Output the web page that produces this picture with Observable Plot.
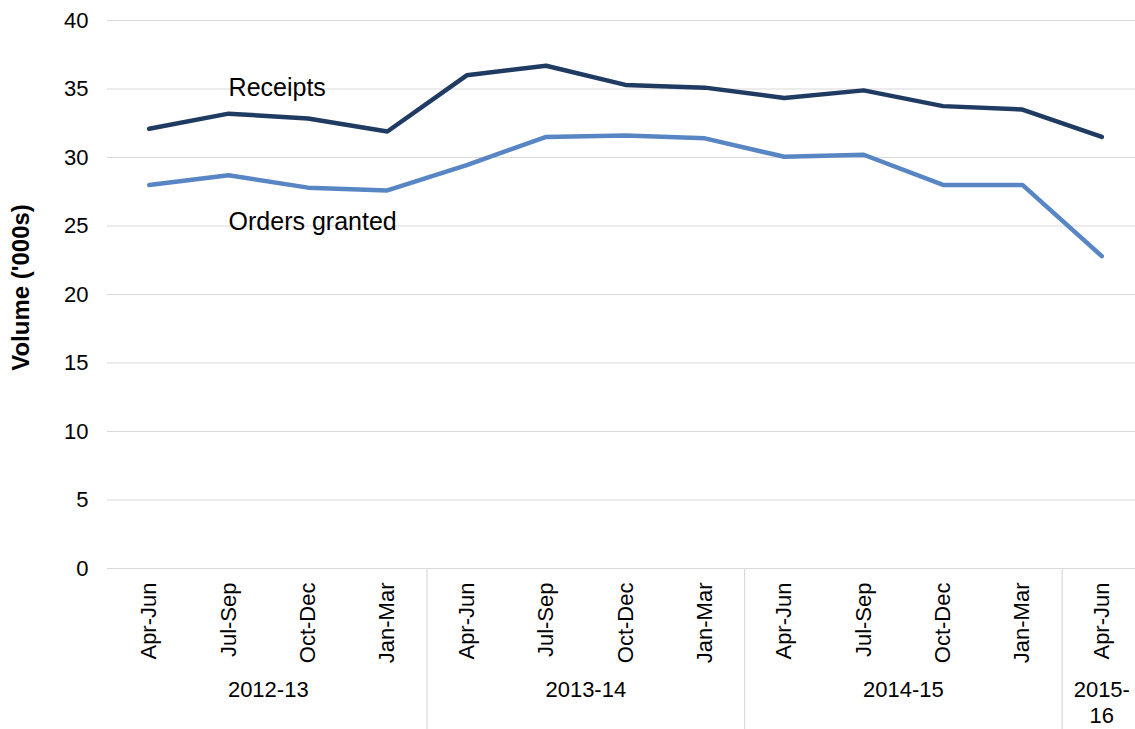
<!DOCTYPE html>
<html><head><meta charset="utf-8">
<script src="https://cdn.jsdelivr.net/npm/d3@7"></script>
<script src="https://cdn.jsdelivr.net/npm/@observablehq/plot@0.6"></script>
<style>html,body{margin:0;padding:0;background:#fff;} #chart svg{display:block}</style>
</head><body><div id="chart"></div>
<script>
// ---- data ----
const quarters = ["Apr-Jun","Jul-Sep","Oct-Dec","Jan-Mar","Apr-Jun","Jul-Sep","Oct-Dec","Jan-Mar","Apr-Jun","Jul-Sep","Oct-Dec","Jan-Mar","Apr-Jun"];
const years = ["2012-13","2012-13","2012-13","2012-13","2013-14","2013-14","2013-14","2013-14","2014-15","2014-15","2014-15","2014-15","2015-16"];
const receipts = [32.1, 33.2, 32.85, 31.9, 36.0, 36.7, 35.3, 35.1, 34.35, 34.9, 33.75, 33.5, 31.5];
const ordersGranted = [28.0, 28.7, 27.8, 27.6, 29.45, 31.5, 31.6, 31.4, 30.05, 30.2, 28.0, 28.0, 22.8];
const yTicks = [0, 5, 10, 15, 20, 25, 30, 35, 40];
const seriesLabels = ["Receipts", "Orders granted"];
const labelQuarterIndex = [1, 1];
const labelValues = [35.1, 25.3];
const yTitle = "Volume ('000s)";

// ---- derived tables ----
const rows = quarters.map((q, i) => ({i, quarter: q, year: years[i], receipts: receipts[i], orders: ordersGranted[i]}));
const groups = d3.groups(rows, d => d.year).map(([year, rs]) => ({
  year, mid: d3.mean(rs, d => d.i), end: d3.max(rs, d => d.i) + 0.5, n: rs.length,
  text: rs.length === 1 ? year.replace("-", "-\n") : year
}));
const separators = groups.slice(0, -1);
const annotations = seriesLabels.map((t, k) => ({text: t, i: labelQuarterIndex[k], v: labelValues[k]}));

const W = 1135, H = 729, mT = 20, mB = 161, mL = 107;
const frameH = H - mT - mB;

const chart = Plot.plot({
  width: W, height: H, marginTop: mT, marginBottom: mB, marginLeft: mL, marginRight: 0,
  style: {fontFamily: '"Liberation Sans", Arial, sans-serif', fontSize: "22px", color: "#000", background: "#fff", overflow: "visible"},
  x: {domain: [-0.5, quarters.length - 0.5], range: [109, 1141]},
  y: {domain: [0, 40]},
  marks: [
    Plot.gridY(yTicks, {stroke: "#d9d9d9", strokeOpacity: 1, strokeWidth: 1.2}),
    Plot.axisY(yTicks, {tickSize: 0, tickPadding: 19, fontSize: 22, label: null}),
    Plot.axisX(rows.map(d => d.i), {tickSize: 0, tickPadding: 14, tickRotate: -90, tickFormat: i => quarters[i], fontSize: 22, label: null}),
    Plot.ruleX(separators, {x: "end", stroke: "#d9d9d9", strokeWidth: 1.2, insetTop: frameH, insetBottom: -mB}),
    Plot.text(groups, {x: "mid", text: "text", frameAnchor: "bottom", lineAnchor: "top", dy: 111, fontSize: 22, lineHeight: 1.15}),
    Plot.line(rows, {x: "i", y: "receipts", stroke: "#203b62", strokeWidth: 4.5}),
    Plot.line(rows, {x: "i", y: "orders", stroke: "#5886c4", strokeWidth: 4.5}),
    Plot.text(annotations, {x: "i", y: "v", text: "text", textAnchor: "start", fontSize: 25}),
    Plot.text([yTitle], {frameAnchor: "left", textAnchor: "middle", rotate: -90, dx: -86, dy: -7, fontWeight: "bold", fontSize: 24})
  ]
});
document.getElementById("chart").appendChild(chart);
</script>
</body></html>
